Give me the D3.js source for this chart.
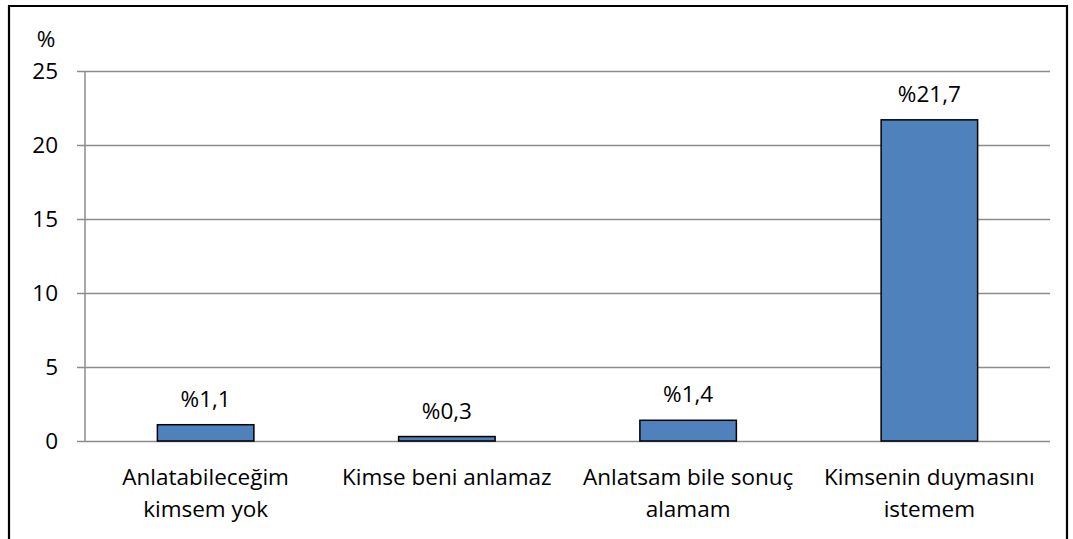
<!DOCTYPE html>
<html>
<head>
<meta charset="utf-8">
<script src="https://cdn.jsdelivr.net/npm/d3@7"></script>
<style>
  body { margin: 0; background: #fff; }
  svg { display: block; }
  svg text { font-family: "Open Sans", "Noto Sans", sans-serif; }
</style>
</head>
<body>
<svg id="chart" width="1073" height="539"></svg>
<script>
// Reasons given for not telling anyone (percent)
const categories = [
  ["Anlatabileceğim", "kimsem yok"],
  ["Kimse beni anlamaz"],
  ["Anlatsam bile sonuç", "alamam"],
  ["Kimsenin duymasını", "istemem"]
];
const values = [1.1, 0.3, 1.4, 21.7];
const valueLabels = ["%1,1", "%0,3", "%1,4", "%21,7"];
const yTicks = [0, 5, 10, 15, 20, 25];

const svg = d3.select("#chart");
const margin = { left: 85, right: 1050, top: 71, bottom: 441 };
const fontSize = 22.5;

// chart frame
svg.append("path")
  .attr("d", `M9,539 V6 H1067 V539`)
  .attr("fill", "none")
  .attr("stroke", "#000")
  .attr("stroke-width", 2.2);

const x = d3.scaleBand()
  .domain(d3.range(categories.length))
  .range([margin.left, margin.right])
  .paddingInner(0.6)
  .paddingOuter(0.3);

const y = d3.scaleLinear().domain([0, 25]).range([margin.bottom, margin.top]);

// horizontal gridlines with outward ticks
const yAxis = d3.axisLeft(y)
  .tickValues(yTicks)
  .tickSize(-(margin.right - margin.left))
  .tickFormat(d3.format("d"));

const gy = svg.append("g")
  .attr("transform", `translate(${margin.left},0)`)
  .call(yAxis);
gy.attr("font-family", null).attr("font-size", null);
gy.select(".domain").remove();
gy.selectAll(".tick line")
  .attr("x1", -8)
  .attr("stroke", "#8c8c8c")
  .attr("stroke-width", 1.5);
gy.selectAll(".tick text")
  .attr("fill", "#000")
  .attr("font-size", fontSize)
  .attr("x", -27)
  .attr("dy", "0.35em");

// vertical axis line
svg.append("line")
  .attr("x1", margin.left).attr("x2", margin.left)
  .attr("y1", margin.top).attr("y2", margin.bottom)
  .attr("stroke", "#8c8c8c").attr("stroke-width", 1.5);

svg.append("text")
  .attr("x", 46).attr("y", 47)
  .attr("text-anchor", "middle")
  .attr("font-size", fontSize)
  .text("%");

// bars
svg.append("g").selectAll("rect")
  .data(values)
  .join("rect")
  .attr("x", (d, i) => x(i))
  .attr("width", x.bandwidth())
  .attr("y", d => y(d))
  .attr("height", d => y(0) - y(d))
  .attr("fill", "#4f81bd")
  .attr("stroke", "#000")
  .attr("stroke-width", 1.5);

// value labels
svg.append("g").selectAll("text")
  .data(values)
  .join("text")
  .attr("x", (d, i) => x(i) + x.bandwidth() / 2)
  .attr("y", d => y(d) - 18)
  .attr("text-anchor", "middle")
  .attr("font-size", fontSize)
  .text((d, i) => valueLabels[i]);

// category labels
const cat = svg.append("g").selectAll("text")
  .data(categories)
  .join("text")
  .attr("x", (d, i) => x(i) + x.bandwidth() / 2)
  .attr("y", 485)
  .attr("text-anchor", "middle")
  .attr("font-size", fontSize);
cat.selectAll("tspan")
  .data(d => d)
  .join("tspan")
  .attr("x", function () { return d3.select(this.parentNode).attr("x"); })
  .attr("dy", (d, i) => i === 0 ? 0 : 32)
  .text(d => d);
</script>
</body>
</html>
